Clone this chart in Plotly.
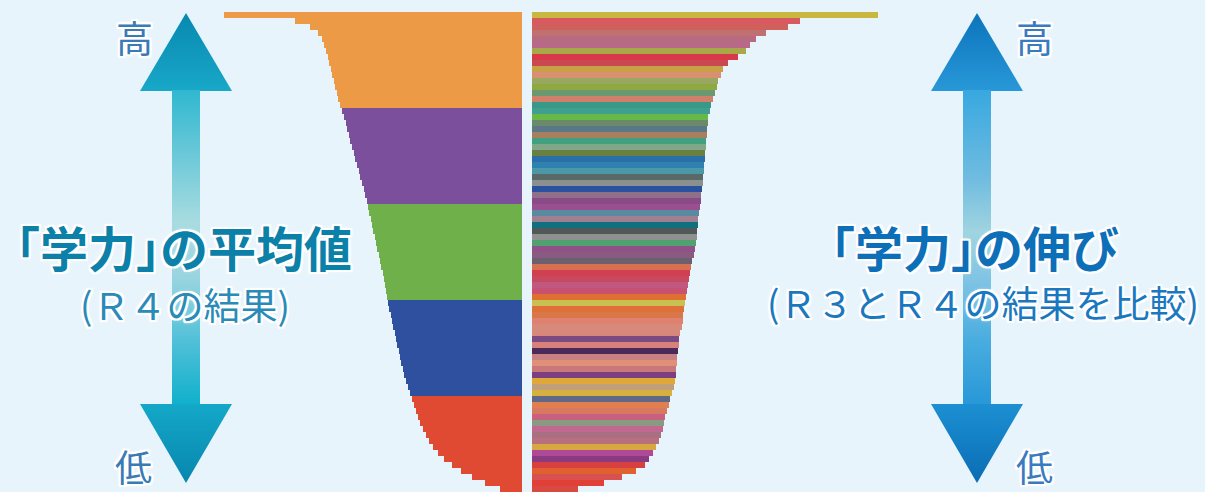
import plotly.graph_objects as go

# ---------------- data ----------------
# Left: 「学力」の平均値 (R4) — sorted, split into 5 quintile bands (top -> bottom)
left_band_names = ["上位", "中上位", "中位", "中下位", "下位"]
left_band1 = [89.7, 68.3, 63.8, 61.4, 60.2, 59.6, 59.0, 58.4, 58.1, 57.5, 57.2, 56.6, 56.3, 55.7, 55.4, 54.8]
left_band2 = [54.2, 53.6, 53.1, 52.7, 52.1, 51.8, 51.2, 50.6, 50.3, 49.7, 49.1, 48.8, 48.1, 47.5, 47.2, 46.6]
left_band3 = [46.3, 46.0, 45.4, 45.1, 44.7, 44.2, 43.9, 43.5, 43.0, 42.7, 42.3, 41.8, 41.5, 41.2, 40.9, 40.6]
left_band4 = [40.3, 39.9, 39.4, 39.1, 38.7, 38.2, 37.9, 37.5, 37.0, 36.7, 36.3, 35.8, 35.4, 34.9, 34.3, 33.7]
left_band5 = [33.1, 32.5, 31.9, 31.3, 30.7, 29.8, 28.9, 28.0, 26.8, 25.3, 23.5, 21.1, 18.4, 15.0, 11.1, 6.6]

# Right: 「学力」の伸び (R3 vs R4) — sorted (top -> bottom)
right_values = [
    104.1, 80.7, 77.0, 70.4, 67.4, 65.6, 64.4, 62.0, 59.0, 57.5,
    56.9, 56.0, 55.7, 55.1, 54.5, 53.9, 53.6, 53.1, 53.0, 52.8,
    52.7, 52.5, 52.4, 52.2, 52.1, 51.9, 51.8, 51.6, 51.5, 51.2,
    51.0, 50.9, 50.6, 50.3, 50.1, 50.0, 49.7, 49.7, 49.4, 49.1,
    48.8, 48.1, 47.8, 47.5, 47.2, 46.9, 46.6, 46.3, 46.0, 45.7,
    45.4, 45.3, 45.0, 44.5, 44.2, 44.1, 43.9, 43.6, 43.5, 43.3,
    43.2, 42.9, 42.7, 42.1, 41.5, 41.1, 40.5, 40.0, 39.7, 39.3,
    38.8, 38.2, 37.3, 36.4, 35.2, 34.0, 31.3, 27.1, 21.7, 13.8,
]

# ---------------- styles ----------------
band_colors = ["#ed9a47", "#7b4f9b", "#70b04a", "#2f4f9f", "#e04a33"]
right_colors = [
    "#c8b840", "#d85a60", "#d0605c", "#c07070", "#b86a80", "#b86888", "#a8a848", "#d83848", "#c84a50", "#c8a048",
    "#d89070", "#98a860", "#90a840", "#6a9870", "#d08068", "#3a9888", "#40a090", "#68b848", "#6a8a6a", "#5a7888",
    "#a88060", "#40a080", "#80a888", "#6a8040", "#2a70a8", "#3080b0", "#4a98a8", "#5a6868", "#8a9090", "#2a50a0",
    "#907088", "#8a4a88", "#9a5090", "#5a8aa0", "#a08090", "#107080", "#505858", "#909090", "#50a070", "#905088",
    "#8a5a80", "#6a6070", "#d87050", "#d04050", "#c84860", "#c05880", "#c85070", "#e07030", "#c8c050", "#e0703a",
    "#d87848", "#e08070", "#d88a7a", "#d8887a", "#7a4a80", "#d8807a", "#4a2a58", "#c88080", "#e09078", "#c87878",
    "#7a4080", "#e0a838", "#c0a078", "#d8b040", "#606888", "#e08050", "#d87860", "#c86080", "#8a9a80", "#c06890",
    "#a87080", "#b87080", "#d8a840", "#b04898", "#8a3a80", "#d84040", "#e06030", "#d85050", "#e04038", "#d84a40",
]

BG = "#e8f4fc"
W, H = 1205, 492
FONT = "Noto Sans CJK JP"

fig = go.Figure()

# ---------------- left bars ----------------
bands = [left_band1, left_band2, left_band3, left_band4, left_band5]
row = 0
for name, vals, col in zip(left_band_names, bands, band_colors):
    ys = list(range(row, row + len(vals)))
    row += len(vals)
    fig.add_trace(go.Bar(
        x=vals, y=ys, orientation="h", name=name,
        marker=dict(color=col, line=dict(width=0)),
        xaxis="x", yaxis="y", showlegend=False, hoverinfo="x",
    ))
n_left = row

# ---------------- right bars ----------------
fig.add_trace(go.Bar(
    x=right_values, y=list(range(len(right_values))), orientation="h",
    marker=dict(color=right_colors, line=dict(width=0)),
    xaxis="x2", yaxis="y2", showlegend=False, hoverinfo="x",
))

# ---------------- arrows (decoration on an overlay pixel axis) ----------------
def poly(xs, ys, stops, y0, y1):
    fig.add_trace(go.Scatter(
        x=xs, y=ys, mode="lines", fill="toself", line=dict(width=0),
        fillgradient=dict(type="vertical", colorscale=stops, start=y0, stop=y1),
        xaxis="x3", yaxis="y3", showlegend=False, hoverinfo="skip",
    ))

def arrow(cx, hw, sw, top, hb_top, hb_bot, bot, c):
    poly([cx - hw, cx, cx + hw, cx - hw], [hb_top, top, hb_top, hb_top],
         [[0, c["tip"]], [1, c["base"]]], top, hb_top)
    poly([cx - sw, cx + sw, cx + sw, cx - sw, cx - sw], [hb_top - 1, hb_top - 1, hb_bot + 1, hb_bot + 1, hb_top - 1],
         c["shaft"], hb_top, hb_bot)
    poly([cx - hw, cx + hw, cx, cx - hw], [hb_bot, hb_bot, bot, hb_bot],
         [[0, c["base2"]], [1, c["tip2"]]], hb_bot, bot)

arrow(186, 46, 14, 13, 91, 404, 483, dict(
    tip="#0888b0", base="#18a8c8", base2="#14a8c8", tip2="#0886ae",
    shaft=[[0, "#30b8d0"], [0.2, "#6ac8d8"], [0.42, "#a8dce0"], [0.6, "#98d4e0"],
           [0.8, "#50c0d8"], [1, "#10b0cc"]]))
arrow(977, 46, 14, 13, 91, 404, 483, dict(
    tip="#0c74bc", base="#2898d8", base2="#1c90d2", tip2="#0a6cb4",
    shaft=[[0, "#38a8e0"], [0.28, "#70bce0"], [0.45, "#a0d4e0"], [0.6, "#80c4e4"],
           [0.8, "#48acdf"], [1, "#2898d8"]]))

# ---------------- text ----------------
HALO = ("2px 0 0 #fff, -2px 0 0 #fff, 0 2px 0 #fff, 0 -2px 0 #fff, "
        "2px 2px 0 #fff, -2px -2px 0 #fff, 2px -2px 0 #fff, -2px 2px 0 #fff, 0 0 5px #fff")

def label(txt, x, y, size, color, bold=False):
    fig.add_annotation(
        x=x, y=y, xref="x3", yref="y3", text=txt, showarrow=False,
        xanchor="center", yanchor="middle",
        font=dict(family=FONT, size=size, color=color, weight=700 if bold else 400, shadow=HALO),
    )

label("高", 134, 37, 37, "#3a7ab5")
label("低", 133, 466, 37, "#3a7ab5")
label("｢学力｣の平均値", 184, 246, 48, "#0b80a8", bold=True)
label("(Ｒ４の結果)", 185, 304, 37, "#2a8ab8")

label("高", 1034, 37, 37, "#3a7ac0")
label("低", 1034, 466, 37, "#3a7ac0")
label("｢学力｣の伸び", 975, 246, 48, "#0d6fb8", bold=True)
label("(Ｒ３とＲ４の結果を比較)", 983, 302, 37, "#1a78c0")

# ---------------- layout ----------------
ydom = [0, (H - 12) / H]
fig.update_layout(
    width=W, height=H,
    margin=dict(l=0, r=0, t=0, b=0, pad=0),
    paper_bgcolor=BG, plot_bgcolor="rgba(0,0,0,0)",
    bargap=0, barmode="overlay",
    xaxis=dict(domain=[90 / W, 522 / W], range=[130, 0], visible=False, fixedrange=True),
    yaxis=dict(domain=ydom, range=[n_left - 0.5, -0.5], visible=False, fixedrange=True),
    xaxis2=dict(domain=[532 / W, 964 / W], range=[0, 130], visible=False, anchor="y2", fixedrange=True),
    yaxis2=dict(domain=ydom, range=[len(right_values) - 0.5, -0.5], visible=False, anchor="x2", fixedrange=True),
    xaxis3=dict(domain=[0, 1], range=[0, W], visible=False, anchor="y3", fixedrange=True),
    yaxis3=dict(domain=[0, 1], range=[H, 0], visible=False, anchor="x3", fixedrange=True),
    showlegend=False,
)

fig.write_html("out.html", config={"displayModeBar": False})
